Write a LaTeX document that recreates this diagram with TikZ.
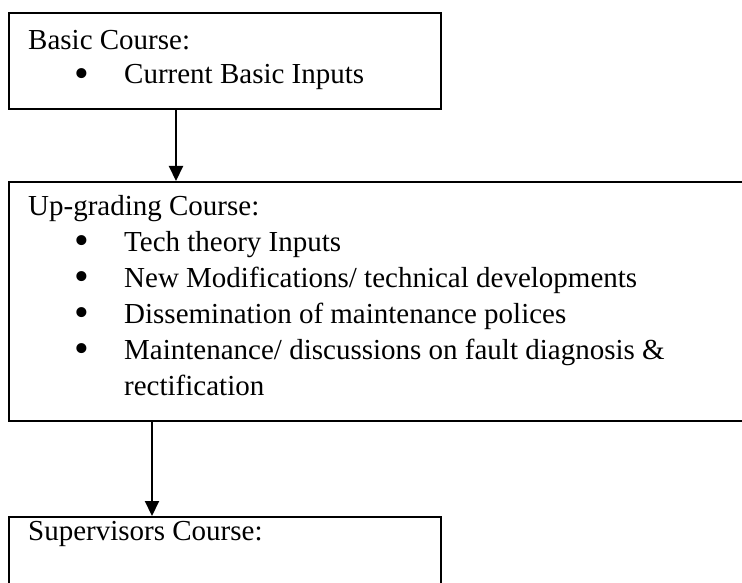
\documentclass[tikz,border=0pt]{standalone}
\usepackage{fontspec}
\setmainfont{Liberation Serif}
\usetikzlibrary{arrows.meta}
\newcommand{\listdot}{\scalebox{1.45}{•}}
\begin{document}
\begin{tikzpicture}[x=1pt,y=-1pt,
  box/.style={draw=black, line width=1.9pt, fill=none, inner sep=0pt, anchor=north west},
  txt/.style={anchor=base west, inner sep=0pt, font=\fontsize{29}{34}\selectfont},
  bul/.style={anchor=center, inner sep=0pt, font=\fontsize{29}{29}\selectfont},
  flow/.style={line width=2.1pt, -{Triangle[width=14pt,length=15pt]}}]
\useasboundingbox (0,0) rectangle (742,583);
\clip (0,0) rectangle (742,583);

% course boxes
\node[box, minimum width=432, minimum height=96] (basic) at (8,12) {};
\node[box, minimum width=780, minimum height=239] (upgrade) at (8,181) {};
\node[box, minimum width=432, minimum height=120] (super) at (8,516) {};

% basic course
\node[txt] (t1) at (28,50) {Basic Course:};
\node[bul] (b1) at (82,78.5) {\listdot};
\node[txt] (i1) at (124,84) {Current Basic Inputs};

% up-grading course
\node[txt] (t2) at (28,215) {Up-grading Course:};
\node[bul] (b2) at (82,245.5) {\listdot};
\node[txt] (i2) at (124,251) {Tech theory Inputs};
\node[bul] (b3) at (82,281.5) {\listdot};
\node[txt] (i3) at (124,287) {New Modifications/ technical developments};
\node[bul] (b4) at (82,317.5) {\listdot};
\node[txt] (i4) at (124,323) {Dissemination of maintenance polices};
\node[bul] (b5) at (82,353.5) {\listdot};
\node[txt] (i5) at (124,359) {Maintenance/ discussions on fault diagnosis \&};
\node[txt] (i6) at (124,395) {rectification};

% supervisors course
\node[txt] (t3) at (28,540) {Supervisors Course:};

% connectors
\coordinate (a1s) at (basic.south west -| 176,0);
\coordinate (a1e) at (upgrade.north west -| 176,0);
\draw[flow] (a1s) -- (a1e);
\coordinate (a2s) at (upgrade.south west -| 152,0);
\coordinate (a2e) at (super.north west -| 152,0);
\draw[flow] (a2s) -- (a2e);
\end{tikzpicture}
\end{document}
